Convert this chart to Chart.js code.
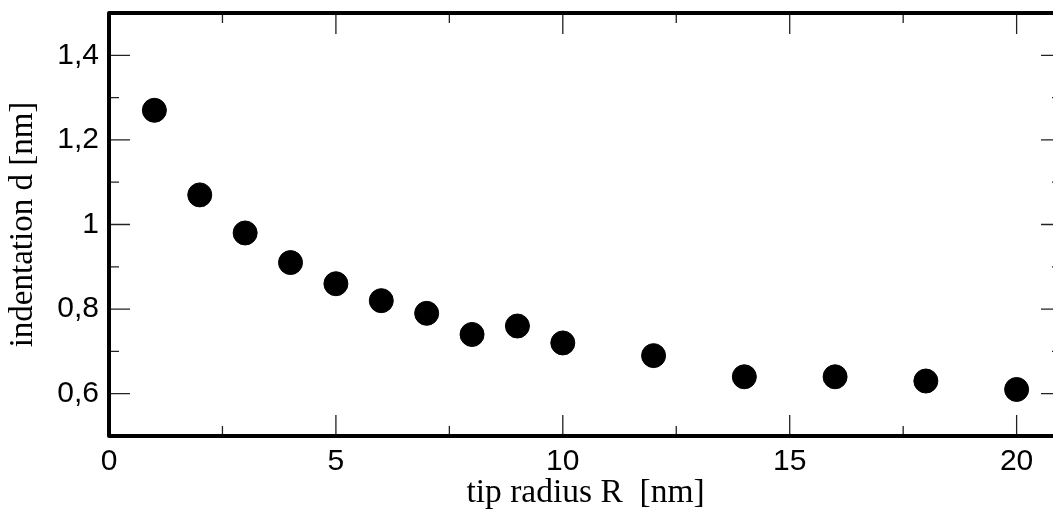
<!DOCTYPE html>
<html>
<head>
<meta charset="utf-8">
<script src="https://cdn.jsdelivr.net/npm/chart.js@4"></script>
<style>
html,body{margin:0;padding:0;overflow:hidden;background:#fff;}
#wrap{width:1075px;height:513px;}
</style>
</head>
<body>
<div id="wrap"><canvas id="c" width="1075" height="513"></canvas></div>
<script>
const radiusR = [1, 2, 3, 4, 5, 6, 7, 8, 9, 10, 12, 14, 16, 18, 20];
const indentation = [1.27, 1.07, 0.98, 0.91, 0.86, 0.82, 0.79, 0.74, 0.76, 0.72, 0.69, 0.64, 0.64, 0.63, 0.61];
const xMajorTicks = [0, 5, 10, 15, 20];
const xMinorTicks = [2.5, 7.5, 12.5, 17.5];
const yMajorTicks = [0.6, 0.8, 1.0, 1.2, 1.4];
const yMinorTicks = [0.7, 0.9, 1.1, 1.3];
const xTitle = 'tip radius R  [nm]';
const yTitle = 'indentation d [nm]';

const frameTicks = {
  id: 'frameTicks',
  afterDatasetsDraw(chart) {
    const {ctx, chartArea: a, scales: {x, y}} = chart;
    ctx.save();
    ctx.strokeStyle = '#222';
    ctx.lineWidth = 1.3;
    const MAJ = 21, MIN = 10;
    ctx.beginPath();
    xMajorTicks.concat(xMinorTicks).forEach(v => {
      const L = xMajorTicks.includes(v) ? MAJ : MIN;
      const px = x.getPixelForValue(v);
      ctx.moveTo(px, a.bottom); ctx.lineTo(px, a.bottom - L);
      ctx.moveTo(px, a.top); ctx.lineTo(px, a.top + L);
    });
    yMajorTicks.concat(yMinorTicks).forEach(v => {
      const L = yMajorTicks.includes(v) ? MAJ : MIN;
      const py = y.getPixelForValue(v);
      ctx.moveTo(a.left, py); ctx.lineTo(a.left + L, py);
      ctx.moveTo(a.right, py); ctx.lineTo(a.right - L, py);
    });
    ctx.stroke();
    ctx.strokeStyle = '#000';
    ctx.lineWidth = 4;
    ctx.lineJoin = 'round';
    ctx.strokeRect(a.left, a.top, a.right - a.left, a.bottom - a.top);
    ctx.restore();
  }
};

const fmt = v => String(Math.round(v * 10) / 10).replace('.', ',');

new Chart(document.getElementById('c'), {
  type: 'scatter',
  data: {
    datasets: [{
      data: radiusR.map((r, i) => ({x: r, y: indentation[i]})),
      backgroundColor: '#000',
      borderColor: '#000',
      pointRadius: 12,
      pointHoverRadius: 12
    }]
  },
  options: {
    responsive: false,
    animation: false,
    devicePixelRatio: 1,
    layout: {padding: {top: 13, right: 9.5, left: 0, bottom: 0}},
    plugins: {legend: {display: false}, tooltip: {enabled: false}},
    scales: {
      x: {
        type: 'linear', min: 0, max: 21,
        grid: {display: false, drawTicks: false},
        border: {display: false},
        afterBuildTicks: s => { s.ticks = xMajorTicks.map(v => ({value: v})); },
        afterFit: s => { s.height = 77; s.paddingLeft = 0; s.paddingRight = 0; },
        ticks: {color: '#000', font: {family: 'Liberation Sans', size: 30}, padding: 8, maxRotation: 0, callback: v => fmt(v)},
        title: {display: true, text: xTitle, color: '#000', font: {family: 'Liberation Serif', size: 33.5}, padding: {top: 0, bottom: 0}}
      },
      y: {
        type: 'linear', min: 0.5, max: 1.5,
        grid: {display: false, drawTicks: false},
        border: {display: false},
        afterBuildTicks: s => { s.ticks = yMajorTicks.map(v => ({value: v})); },
        afterFit: s => { s.width = 109; s.paddingTop = 0; s.paddingBottom = 0; },
        ticks: {color: '#000', font: {family: 'Liberation Sans', size: 30}, padding: 10, callback: v => fmt(v)},
        title: {display: true, text: yTitle, color: '#000', font: {family: 'Liberation Serif', size: 33}, padding: {top: 4, bottom: 0}}
      }
    }
  },
  plugins: [frameTicks]
});
</script>
</body>
</html>
